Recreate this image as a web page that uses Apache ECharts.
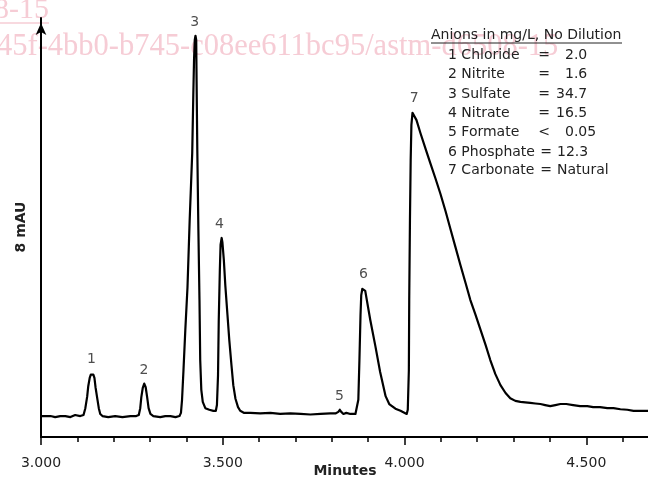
<!DOCTYPE html>
<html><head><meta charset="utf-8">
<script src="https://cdn.jsdelivr.net/npm/echarts/dist/echarts.min.js"></script>
<style>html,body{margin:0;padding:0;background:#fff}#c{width:648px;height:477px}</style>
</head><body><div id="c"></div>
<script>
// retention time (minutes)
const times = [
3.001,3.026,3.039,3.053,3.067,3.081,3.094,3.108,3.117,3.122,3.127,3.130,3.134,3.137,3.140,3.144,3.147,3.150,3.154,3.159,3.163,3.169,3.185,3.204,3.224,3.246,3.262,
3.269,3.273,3.276,3.280,3.284,3.288,3.292,3.296,3.301,3.309,
3.328,3.342,3.356,3.370,3.381,
3.385,3.388,3.392,3.397,3.403,3.409,3.416,3.419,3.421,3.423,3.425,3.427,
3.428,3.430,3.433,3.436,3.438,3.441,3.445,3.452,3.463,3.474,3.481,
3.484,3.487,3.489,3.492,3.494,3.497,3.499,3.503,3.507,3.513,3.518,3.524,3.529,3.535,3.542,3.548,3.559,
3.576,3.603,3.631,3.658,3.686,3.714,3.741,3.769,3.796,3.810,
3.818,3.822,3.826,3.832,3.840,3.851,3.865,
3.870,3.873,3.876,3.879,3.881,3.884,3.888,3.892,3.906,3.920,3.933,3.948,3.958,3.975,3.989,4.006,
4.009,4.012,4.013,4.015,4.017,4.019,4.022,4.027,4.033,4.044,4.058,4.071,4.085,4.099,4.113,4.126,4.140,4.154,4.168,4.181,
4.195,4.209,4.223,4.236,4.250,4.264,4.278,4.291,4.305,4.319,4.332,4.346,
4.360,4.374,4.387,4.401,4.415,4.429,4.445,
4.464,4.483,4.503,4.519,4.538,4.558,4.575,4.594,4.613,4.630,
4.649,4.671
];
// detector signal (mAU)
const signal = [
0.40,0.40,0.38,0.40,0.40,0.38,0.42,0.40,0.42,0.55,0.77,0.97,1.13,1.19,1.22,1.19,1.13,0.95,0.77,0.55,0.44,0.40,0.38,0.40,0.38,0.40,0.40,
0.42,0.55,0.76,0.94,1.02,0.95,0.76,0.55,0.44,0.40,
0.38,0.40,0.40,0.38,0.40,
0.46,0.71,1.28,2.04,2.86,4.14,5.42,6.53,7.20,7.58,7.66,7.58,
6.82,5.48,3.95,2.62,1.47,0.90,0.67,0.55,0.52,0.50,0.50,
0.61,1.18,2.23,3.19,3.67,3.80,3.72,3.38,2.90,2.33,1.85,1.37,0.99,0.73,0.57,0.50,0.46,
0.46,0.45,0.46,0.44,0.45,0.44,0.43,0.44,0.45,0.45,
0.48,0.52,0.48,0.44,0.46,0.44,0.44,
0.46,0.71,1.47,2.33,2.71,2.83,2.84,2.79,2.23,1.73,1.24,0.78,0.63,0.54,0.50,0.44,
0.52,1.28,2.62,4.14,5.29,5.96,6.19,6.20,6.05,5.80,5.50,5.23,4.94,4.64,4.31,3.98,3.63,3.28,2.94,2.62,
2.34,2.05,1.76,1.47,1.20,0.99,0.84,0.74,0.69,0.67,0.66,0.65,
0.64,0.63,0.61,0.59,0.61,0.63,0.63,
0.61,0.59,0.59,0.57,0.57,0.55,0.55,0.53,0.52,0.50,
0.50,0.50
];
const peakNumbers = ['1','2','3','4','5','6','7'];
const peakTimes = [3.139, 3.283, 3.423, 3.491, 3.821, 3.887, 4.027];
const peakHeights = [1.22, 1.02, 7.66, 3.80, 0.52, 2.84, 6.21];

const legendTitle = 'Anions in mg/L, No Dilution';
const analyteNames = ['1 Chloride','2 Nitrite','3 Sulfate','4 Nitrate','5 Formate','6 Phosphate','7 Carbonate'];
const analyteOps = ['=','=','=','=','<','=','='];
const analyteValues = ['2.0','1.6','34.7','16.5','0.05','12.3','Natural'];

const xTitle = 'Minutes';
const yTitle = '8 mAU';
const watermark1 = 'd6508-15';
const watermark2 = '45f-4bb0-b745-c08ee611bc95/astm-d6508-15';

const FONT = '"DejaVu Sans", Verdana, sans-serif';
const TXT = '#222';
const PINK = '#f6ccd5';

const chart = echarts.init(document.getElementById('c'), null, {renderer: 'canvas'});

const graphics = [];
graphics.push({type:'text', z:-10, x:49, y:10, style:{text:watermark1, font:'30px "Liberation Serif", serif', fill:PINK, textAlign:'right', textVerticalAlign:'middle', verticalAlign:'middle'}});
graphics.push({type:'line', z:-10, shape:{x1:0, y1:23, x2:49, y2:23}, style:{stroke:PINK, lineWidth:1.5}});
graphics.push({type:'text', z:-10, x:-3, y:47, style:{text:watermark2, font:'30.5px "Liberation Serif", serif', fill:PINK, textAlign:'left', textVerticalAlign:'middle', verticalAlign:'middle'}});

graphics.push({type:'text', x:431, y:35, style:{text:legendTitle, font:'14px ' + FONT, fill:TXT, textAlign:'left', textVerticalAlign:'middle', verticalAlign:'middle'}});
graphics.push({type:'line', shape:{x1:431, y1:43, x2:622, y2:43}, style:{stroke:TXT, lineWidth:1}});
const rowY = [55, 74.3, 94, 113.3, 132.7, 152, 170.7];
const opX = [544, 544, 544, 544, 544, 546, 546];
const valX = [565, 565, 556, 556, 565, 557, 557];
analyteNames.forEach((n, i) => {
  graphics.push({type:'text', x:448, y:rowY[i], style:{text:n, font:'14px ' + FONT, fill:TXT, textAlign:'left', textVerticalAlign:'middle', verticalAlign:'middle'}});
  graphics.push({type:'text', x:opX[i], y:rowY[i], style:{text:analyteOps[i], font:'14px ' + FONT, fill:TXT, textAlign:'center', textVerticalAlign:'middle', verticalAlign:'middle'}});
  graphics.push({type:'text', x:valX[i], y:rowY[i], style:{text:analyteValues[i], font:'14px ' + FONT, fill:TXT, textAlign:'left', textVerticalAlign:'middle', verticalAlign:'middle'}});
});
graphics.push({type:'text', x:345, y:471, style:{text:xTitle, font:'bold 14px ' + FONT, fill:TXT, textAlign:'center', textVerticalAlign:'middle', verticalAlign:'middle'}});
graphics.push({type:'text', x:21, y:227, rotation:Math.PI/2, style:{text:yTitle, font:'bold 14px ' + FONT, fill:TXT, textAlign:'center', textVerticalAlign:'middle', verticalAlign:'middle'}});

chart.setOption({
  animation: false,
  backgroundColor: '#fff',
  grid: {left: 41, right: -120, top: 18, bottom: 40, containLabel: false, outerBoundsMode: 'none'},
  xAxis: {
    type: 'value', min: 3, max: 5, interval: 0.5,
    axisLine: {show: true, onZero: false, lineStyle: {color: '#000', width: 2}},
    axisTick: {show: true, length: 8, lineStyle: {color: '#000', width: 1.5}},
    minorTick: {show: true, splitNumber: 5, length: 5, lineStyle: {color: '#000', width: 1.5}},
    axisLabel: {show: true, formatter: v => v.toFixed(3), color: TXT, fontSize: 14, fontFamily: FONT, margin: 19, showMaxLabel: false},
    splitLine: {show: false}, minorSplitLine: {show: false}
  },
  yAxis: {
    type: 'value', min: 0, max: 8,
    axisLine: {show: true, symbol: ['none', 'arrow'], symbolSize: [8, 12], symbolOffset: [0, -5], lineStyle: {color: '#000', width: 2}},
    axisTick: {show: false}, axisLabel: {show: false}, splitLine: {show: false}
  },
  graphic: graphics,
  series: [
    {
      type: 'line', data: times.map((t, i) => [t, signal[i]]),
      showSymbol: false, symbol: 'none', clip: true,
      lineStyle: {color: '#000', width: 2.2, join: 'round'}, z: 3
    },
    {
      type: 'scatter', symbolSize: 1, silent: true, z: 4,
      data: peakTimes.map((t, i) => ({name: peakNumbers[i], value: [t, peakHeights[i]]})),
      label: {show: true, position: 'top', distance: 6, formatter: '{b}', color: TXT, fontSize: 14, fontFamily: FONT},
      itemStyle: {color: 'rgba(0,0,0,0)'}
    }
  ]
});
</script>
</body></html>
